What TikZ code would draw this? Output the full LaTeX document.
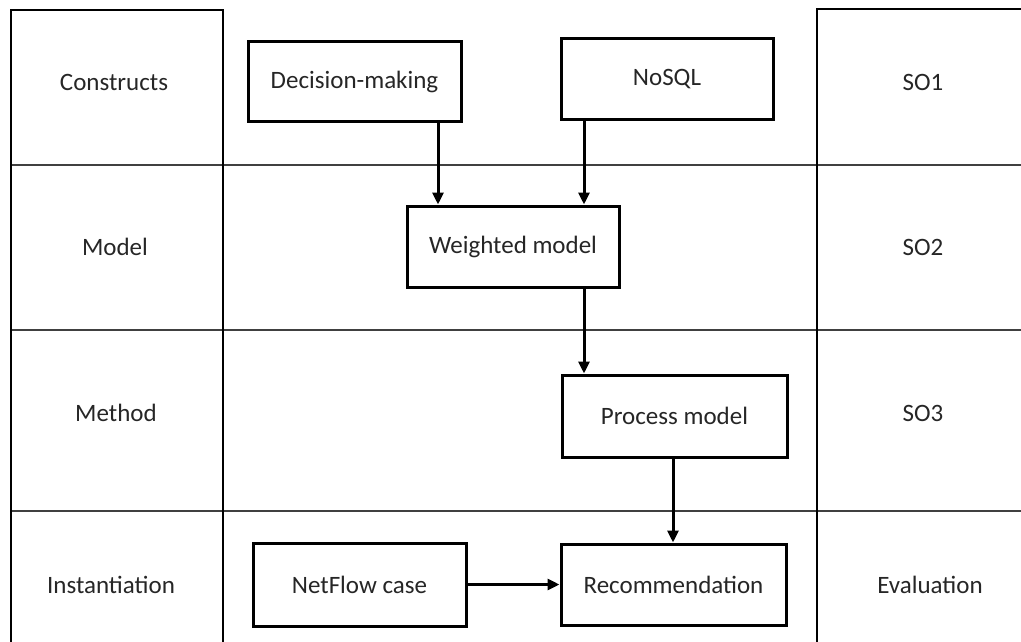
\documentclass[tikz,border=0pt]{standalone}
\usepackage{fontspec}
\setmainfont{Carlito}
\usetikzlibrary{arrows.meta}
\begin{document}
\begin{tikzpicture}[x=1pt,y=-1pt,
  every node/.style={font=\fontsize{25pt}{29pt}\selectfont, text=black!85},
  stepbox/.style={draw=black, line width=3pt, fill=white, inner sep=0pt},
  colline/.style={draw=black, line width=2pt},
  rowline/.style={draw=black!75, line width=1.6pt},
  arr/.style={draw=black, line width=3pt, -{Triangle[length=12pt,width=11pt]}}]
\useasboundingbox (0,0) rectangle (1021,642);
\clip (0,0) rectangle (1021,642);
% row separators
\draw[rowline] (11,165) -- (1021,165);
\draw[rowline] (11,330) -- (1021,330);
\draw[rowline] (11,511) -- (1021,511);
% left and right columns
\draw[colline] (11,650) -- (11,10) -- (223,10) -- (223,650);
\draw[colline] (817,650) -- (817,9) -- (1030,9);
% row labels
\node (lc) at (114,82) {Constructs};
\node (lm) at (115,247) {Model};
\node (lme) at (116,413) {Method};
\node (li) at (111,585) {Instantiation};
\node (r1) at (923,82) {SO1};
\node (r2) at (923,247) {SO2};
\node (r3) at (923,413) {SO3};
\node (r4) at (930,585) {Evaluation};
% artefact boxes
\node[stepbox, minimum width=213pt, minimum height=79pt] (dm) at (354.5,81.5) {Decision-making};
\node[stepbox, minimum width=212pt, minimum height=80pt] (nosql) at (667,79) {NoSQL};
\node[stepbox, minimum width=212pt, minimum height=81pt] (wm) at (513,246.5) {Weighted model};
\node[stepbox, minimum width=225pt, minimum height=82pt] (pm) at (674.5,416) {Process model};
\node[stepbox, minimum width=213pt, minimum height=83pt] (nf) at (359.5,584.5) {NetFlow case};
\node[stepbox, minimum width=225pt, minimum height=81pt] (rec) at (673.5,584.5) {Recommendation};
% connector columns
\coordinate (xa) at (438,0);
\coordinate (xb) at (584,0);
\coordinate (xc) at (673,0);
\draw[arr] (dm.south -| xa) -- (wm.north -| xa);
\draw[arr] (nosql.south -| xb) -- (wm.north -| xb);
\draw[arr] (wm.south -| xb) -- (pm.north -| xb);
\draw[arr] (pm.south -| xc) -- (rec.north -| xc);
\draw[arr] (nf.east) -- (rec.west);
\end{tikzpicture}
\end{document}
